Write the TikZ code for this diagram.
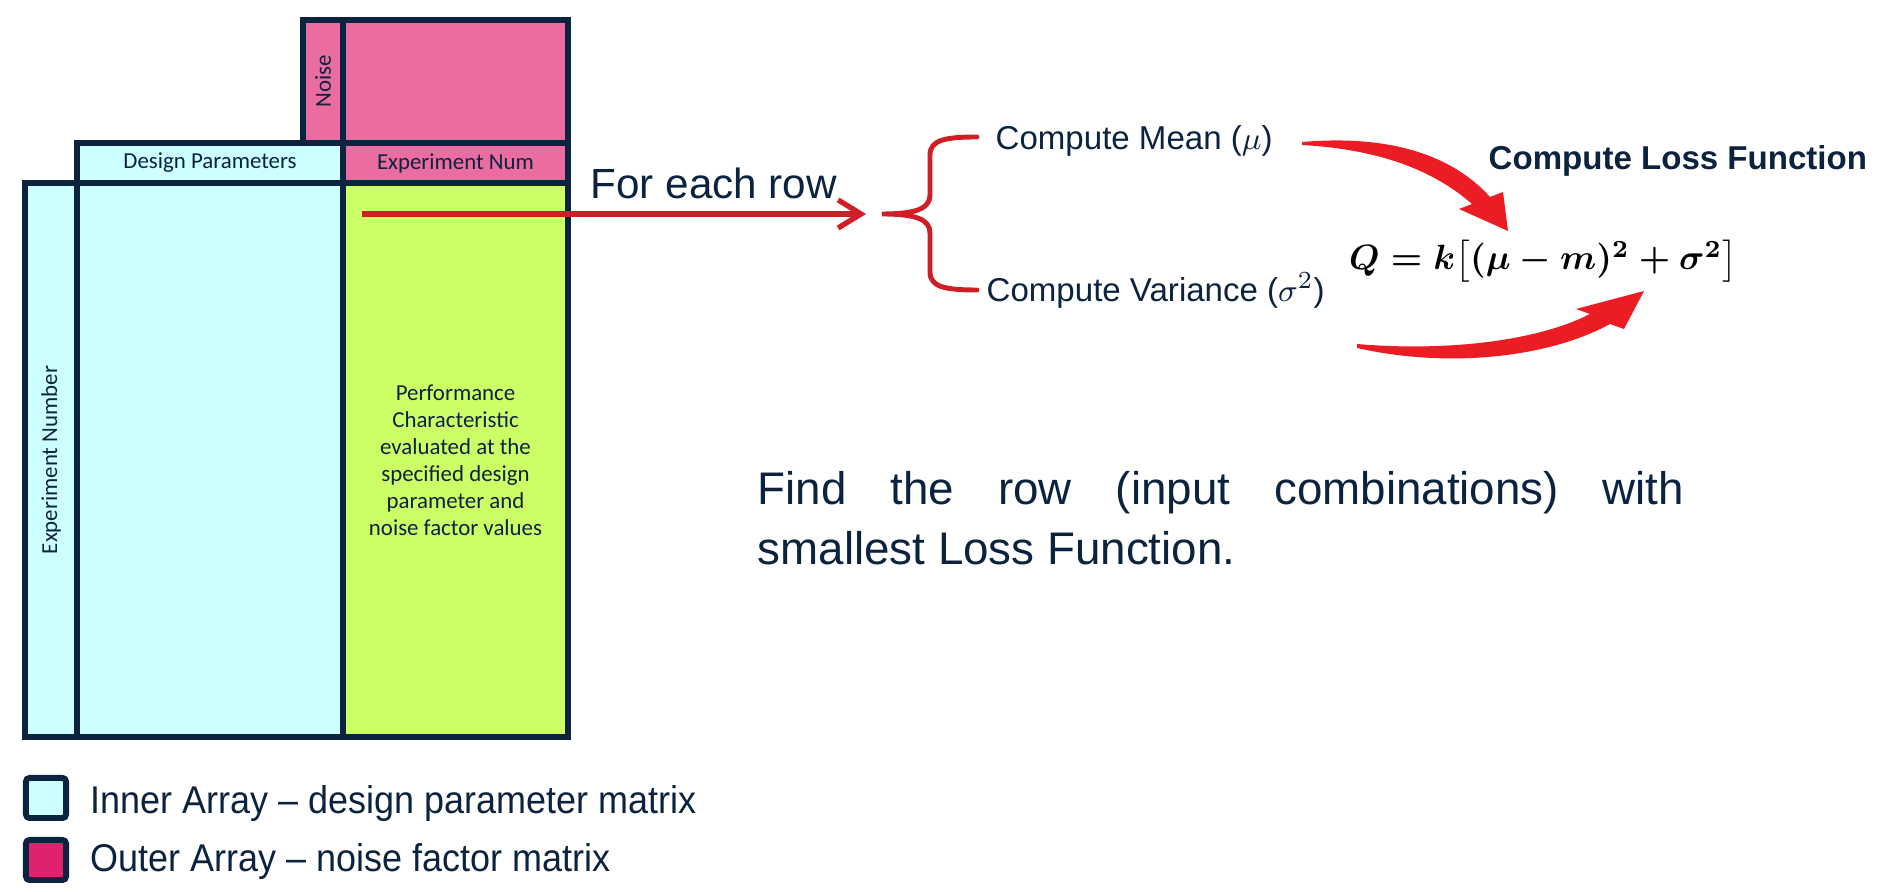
\documentclass[tikz,border=0pt]{standalone}
\usepackage{fontspec}
\setmainfont{Liberation Sans}
\newfontfamily\calib{Carlito}
\newfontfamily\arialnarrow[FakeStretch=0.93, Ligatures=TeX]{Liberation Sans}
\usepackage{amsmath}
\usepackage{tikz}
\usetikzlibrary{positioning, arrows.meta}

\definecolor{navy}{RGB}{12,35,64}
\definecolor{innerc}{RGB}{204,255,255}
\definecolor{outerc}{RGB}{234,108,160}
\definecolor{legpink}{RGB}{224,34,110}
\definecolor{perfc}{RGB}{204,255,102}
\definecolor{rowred}{RGB}{208,30,38}
\definecolor{lossred}{RGB}{236,28,36}

\newsavebox{\lossbox}

\begin{document}
\sbox{\lossbox}{\fontsize{9.6}{11}\selectfont\boldmath
  $Q = k\bigl[(\mu - m)^2 + \sigma^2\bigr]$}%
\begin{tikzpicture}[
    x=0.01cm, y=-0.01cm,
    font=\calib\fontsize{6.5}{7.7}\selectfont,
    text=navy,
    cell/.style={
        draw=navy, line width=1.7pt, inner sep=0pt, align=center,
    },
    side/.style={rotate=90, inner sep=0pt},
    say/.style={
        font=\rmfamily\fontsize{9.4}{11}\selectfont,
        inner sep=0pt, anchor=base west,
    },
    formula/.style={inner sep=0pt, text=black},
    rowarr/.style={
        draw=rowred, line width=1.5pt,
        -{Straight Barb[length=6.5pt, width=8pt]},
    },
    brace/.style={draw=rowred, line width=1.4pt, line cap=round},
    lossarr/.style={fill=lossred, draw=none},
    key/.style={
        draw=navy, line width=1.7pt, rounded corners=1pt,
        minimum size=0.4cm, inner sep=0pt,
    },
    keytxt/.style={
        font=\arialnarrow\fontsize{11}{13}\selectfont,
        inner sep=0pt, anchor=base west,
    },
]
\useasboundingbox (0,0) rectangle (1878,892);

% ── Crossed array: outer (noise) on top, inner (design) on the left ──
\node[cell, fill=outerc, minimum width=0.4cm, minimum height=1.23cm]
    (noise) at (323,81.5) {};
\node[cell, fill=outerc, minimum width=2.25cm, minimum height=1.23cm]
    (outer) at (455.5,81.5) {};
\node[side] (noiselbl) at (noise) {Noise};

\node[cell, fill=innerc, minimum width=2.66cm, minimum height=0.4cm]
    (dp) at (210,163) {Design Parameters};
\node[cell, fill=outerc, minimum width=2.25cm, minimum height=0.4cm]
    (en) at (455.5,163) {Experiment Num};

\node[cell, fill=innerc, minimum width=0.52cm, minimum height=5.54cm]
    (expno) at (51,460) {};
\node[side] (expnolbl) at (expno) {Experiment Number};
\node[cell, fill=innerc, minimum width=2.66cm, minimum height=5.54cm]
    (inner) at (210,460) {};
\node[cell, fill=perfc, minimum width=2.25cm, minimum height=5.54cm]
    (perf) at (455.5,460)
    {Performance\\Characteristic\\evaluated at the\\specified design\\parameter and\\noise factor values};

% ── For each row -> brace ────────────────────────────────────────────
\coordinate (rowstart) at (362,214);
\coordinate (rowend)   at (866,214);
\draw[rowarr] (rowstart) -- (rowend);
\node[font=\rmfamily\fontsize{12}{14}\selectfont, inner sep=0pt, anchor=base west]
    (each) at (590,199) {For each row};

\coordinate (bracetip) at (882,214);
\draw[brace] (977,137) .. controls (945,137) and (930,140) .. (930,155)
    -- (930,195) .. controls (930,209) and (915,214) .. (bracetip)
    .. controls (915,214) and (930,219) .. (930,233)
    -- (930,272) .. controls (930,287) and (945,290) .. (977,290);

\node[say] (mean) at (995,150) {Compute Mean ($\mu$)};
\node[say] (var)  at (986,302) {Compute Variance ($\sigma^2$)};

% ── Loss function ────────────────────────────────────────────────────
\node[say, font=\rmfamily\bfseries\fontsize{9.4}{11}\selectfont]
    (losshd) at (1488,170) {Compute Loss Function};
\node[formula] (lossq) at (1543,261) {\usebox{\lossbox}};

% mean -> Q (tapered)
\fill[lossarr] (1302,142) .. controls (1395,134) and (1455,158) .. (1490,197)
    -- (1503,192) -- (1508,231) -- (1459,209) -- (1472,204)
    .. controls (1440,176) and (1390,150) .. (1302,145) -- cycle;
% variance -> Q (tapered)
\fill[lossarr] (1357,348) .. controls (1450,369) and (1550,357) .. (1610,324)
    -- (1624,329) -- (1644,291) -- (1576,309) -- (1590,314)
    .. controls (1540,340) and (1450,352) .. (1357,344) -- cycle;

\node[font=\rmfamily\fontsize{13}{17}\selectfont, text width=9.26cm, align=justify,
      inner sep=0pt, anchor=north west]
    (find) at (757,471) {Find the row (input combinations) with\linebreak smallest Loss Function.};

% ── Legend ───────────────────────────────────────────────────────────
\node[key, fill=innerc]  (keyin)  at (46,798) {};
\node[keytxt] (keyintxt)  at (90,814) {Inner Array -- design parameter matrix};
\node[key, fill=legpink] (keyout) at (46,860) {};
\node[keytxt] (keyouttxt) at (90,872) {Outer Array -- noise factor matrix};

\end{tikzpicture}
\end{document}
